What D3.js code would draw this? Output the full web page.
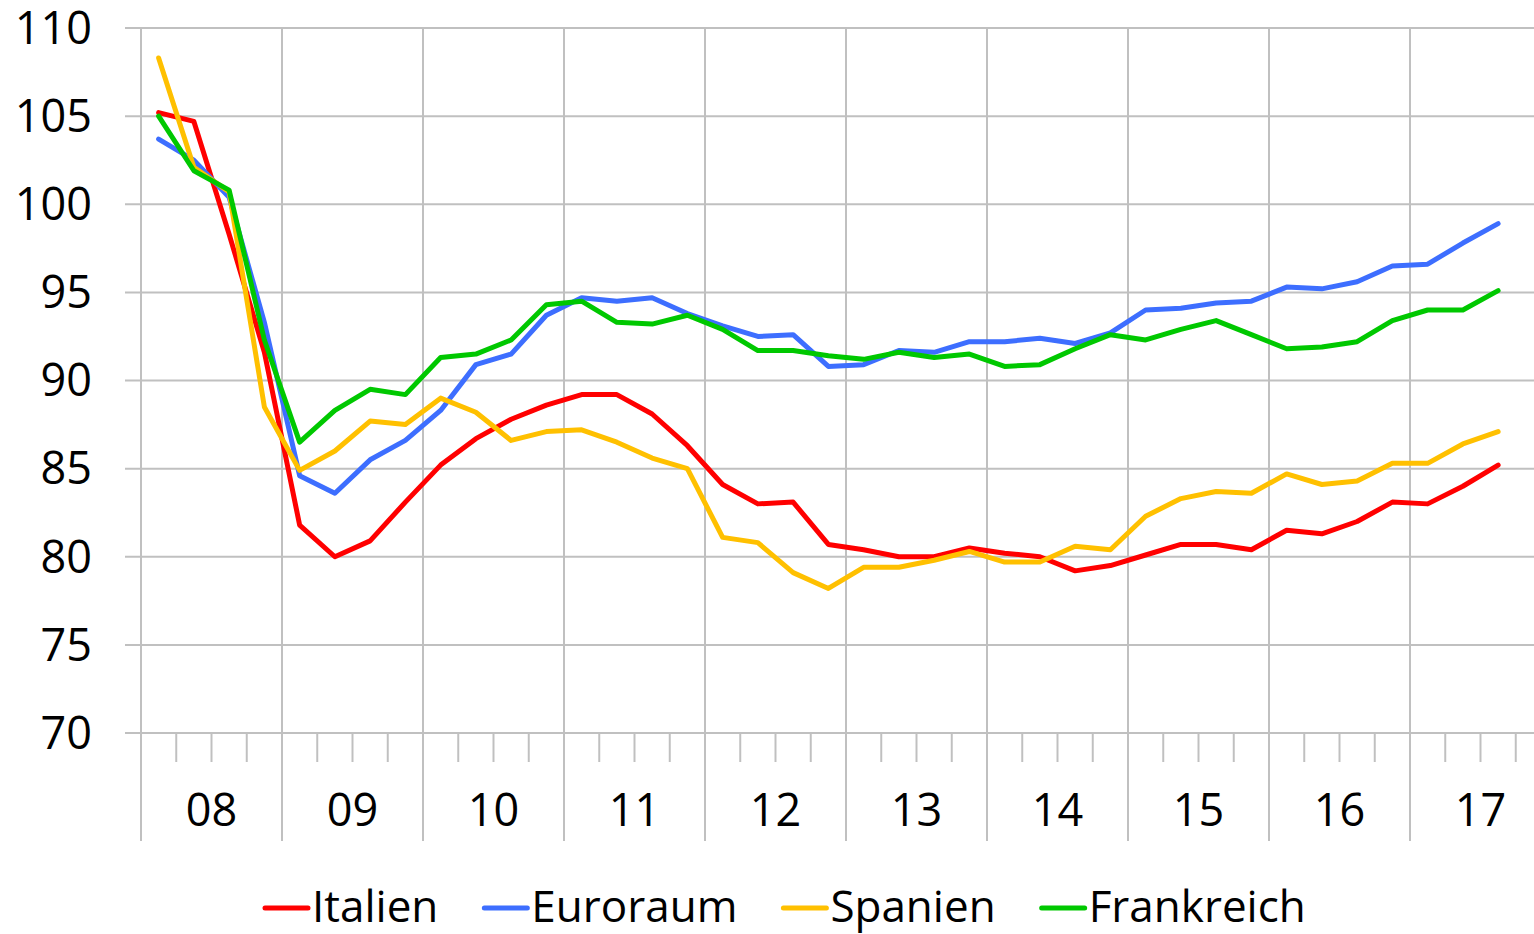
<!DOCTYPE html>
<html>
<head>
<meta charset="utf-8">
<script src="https://cdn.jsdelivr.net/npm/d3@7"></script>
<style>
  body { margin: 0; background: #fff; }
  svg { display: block; font-family: "Open Sans", sans-serif; }
</style>
</head>
<body>
<svg id="chart" width="1534" height="934"></svg>
<script>
// quarterly data 2008 Q1 .. 2017 Q3
const years = ['08', '09', '10', '11', '12', '13', '14', '15', '16', '17'];
const yTicks = [70, 75, 80, 85, 90, 95, 100, 105, 110];
const seriesNames = ['Italien', 'Euroraum', 'Spanien', 'Frankreich'];
const seriesColors = ['#ff0000', '#3d6eff', '#ffc000', '#00c800'];

const italien = [105.2, 104.7, 98.3, 91.6, 81.8, 80.0, 80.9, 83.1, 85.2, 86.7, 87.8, 88.6, 89.2, 89.2, 88.1, 86.3, 84.1, 83.0, 83.1, 80.7,
  80.4, 80.0, 80.0, 80.5, 80.2, 80.0, 79.2, 79.5, 80.1, 80.7, 80.7, 80.4, 81.5, 81.3, 82.0, 83.1, 83.0, 84.0, 85.2];
const euroraum = [103.7, 102.5, 100.4, 93.3, 84.6, 83.6, 85.5, 86.6, 88.3, 90.9, 91.5, 93.7, 94.7, 94.5, 94.7, 93.8, 93.1, 92.5, 92.6, 90.8,
  90.9, 91.7, 91.6, 92.2, 92.2, 92.4, 92.1, 92.7, 94.0, 94.1, 94.4, 94.5, 95.3, 95.2, 95.6, 96.5, 96.6, 97.8, 98.9];
const spanien = [108.3, 102.1, 100.7, 88.5, 84.9, 86.0, 87.7, 87.5, 89.0, 88.2, 86.6, 87.1, 87.2, 86.5, 85.6, 85.0, 81.1, 80.8, 79.1, 78.2,
  79.4, 79.4, 79.8, 80.3, 79.7, 79.7, 80.6, 80.4, 82.3, 83.3, 83.7, 83.6, 84.7, 84.1, 84.3, 85.3, 85.3, 86.4, 87.1];
const frankreich = [105.0, 101.9, 100.8, 92.3, 86.5, 88.3, 89.5, 89.2, 91.3, 91.5, 92.3, 94.3, 94.5, 93.3, 93.2, 93.7, 92.9, 91.7, 91.7, 91.4,
  91.2, 91.6, 91.3, 91.5, 90.8, 90.9, 91.8, 92.6, 92.3, 92.9, 93.4, 92.6, 91.8, 91.9, 92.2, 93.4, 94.0, 94.0, 95.1];

const allSeries = [italien, euroraum, spanien, frankreich];

const width = 1534;
const gridColor = '#c0c0c0';
const numSize = 45;
const legendSize = 44;

const svg = d3.select('#chart');

// quarter scale: 4 slots per year
const nQuarters = years.length * 4;
const x = d3.scaleLinear()
  .domain([0, nQuarters])
  .range([141, 1551]);

const y = d3.scaleLinear()
  .domain([70, 110])
  .range([733, 28]);

// horizontal grid
svg.append('g')
  .selectAll('line')
  .data(yTicks)
  .join('line')
  .attr('x1', 125)
  .attr('x2', width)
  .attr('y1', d => y(d))
  .attr('y2', d => y(d))
  .attr('stroke', gridColor)
  .attr('stroke-width', 2);

// vertical year lines + quarter ticks
const qTicks = d3.range(nQuarters + 1);
svg.append('g')
  .selectAll('line')
  .data(qTicks)
  .join('line')
  .attr('x1', d => x(d))
  .attr('x2', d => x(d))
  .attr('y1', d => d % 4 === 0 ? y(110) : y(70))
  .attr('y2', d => d % 4 === 0 ? 841 : 762)
  .attr('stroke', gridColor)
  .attr('stroke-width', 2);

// y axis labels
const yAxis = d3.axisLeft(y).tickValues(yTicks).tickSize(0).tickPadding(0);
svg.append('g')
  .attr('transform', 'translate(92, 0)')
  .call(yAxis)
  .call(g => g.select('.domain').remove())
  .selectAll('text')
  .attr('font-family', '"Open Sans", sans-serif')
  .attr('font-size', numSize)
  .attr('fill', '#000')
  .attr('dy', '0.34em');

// year labels
svg.append('g')
  .selectAll('text')
  .data(years)
  .join('text')
  .attr('x', (d, i) => x(i * 4 + 2))
  .attr('y', 826)
  .attr('text-anchor', 'middle')
  .attr('font-size', numSize)
  .attr('fill', '#000')
  .text(d => d);

// lines
const line = d3.line()
  .x((d, i) => x(i + 0.5))
  .y(d => y(d));

svg.append('g')
  .selectAll('path')
  .data(allSeries)
  .join('path')
  .attr('d', line)
  .attr('fill', 'none')
  .attr('stroke', (d, i) => seriesColors[i])
  .attr('stroke-width', 5)
  .attr('stroke-linejoin', 'round')
  .attr('stroke-linecap', 'round');

// legend
const legend = svg.append('g').attr('transform', 'translate(263, 908)');
let lx = 0;
seriesNames.forEach((name, i) => {
  const item = legend.append('g').attr('transform', `translate(${lx}, 0)`);
  item.append('line')
    .attr('x1', 2)
    .attr('x2', 45)
    .attr('stroke', seriesColors[i])
    .attr('stroke-width', 5)
    .attr('stroke-linecap', 'round');
  const t = item.append('text')
    .attr('x', 49)
    .attr('y', 14)
    .attr('font-size', legendSize)
    .attr('fill', '#000')
    .text(name);
  lx += 49 + t.node().getComputedTextLength() + 44;
});
</script>
</body>
</html>
